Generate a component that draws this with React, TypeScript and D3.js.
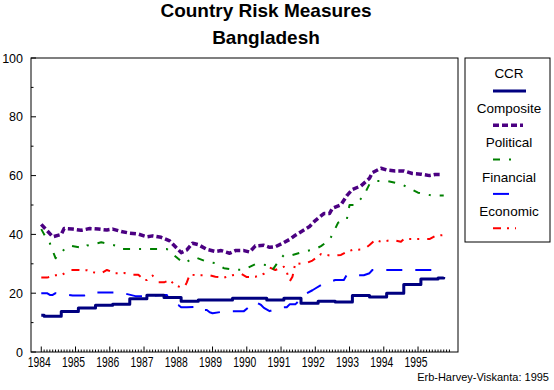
import * as d3 from "d3";

// months counted from Jan 1984
const yearLabels = ["1984", "1985", "1986", "1987", "1988", "1989", "1990", "1991", "1992", "1993", "1994", "1995"];
const yTicks = [0, 20, 40, 60, 80, 100];

const ccrMonths = [0, 1, 7, 13, 19, 25, 31, 37, 43, 49, 55, 67, 79, 85, 91, 97, 103, 109, 115, 121, 127, 133, 139, 141];
const ccrValues = [12.5, 12.2, 13.8, 15.0, 15.9, 16.2, 18.1, 19.3, 18.5, 17.3, 17.7, 18.3, 17.7, 18.3, 16.6, 17.3, 17.0, 19.2, 18.7, 20.0, 23.0, 24.8, 25.2, 25.5];

const compMonths = [0, 2, 4, 7, 8, 11, 14, 17, 20, 23, 25, 28, 31, 34, 37, 39, 42, 45, 47, 49, 51, 53, 55, 58, 61, 63, 66, 68, 71, 73, 75, 78, 80, 82, 85, 87, 89, 92, 94, 96, 99, 101, 102, 105, 107, 109, 112, 115, 116, 119, 121, 124, 127, 130, 133, 136, 138, 140];
const compValues = [43.4, 41.3, 39.2, 40.0, 42.0, 41.8, 41.4, 42.0, 41.8, 41.5, 41.8, 41.0, 40.4, 40.1, 39.2, 39.5, 39.0, 37.8, 35.8, 33.8, 34.7, 37.0, 36.5, 34.9, 34.2, 34.5, 33.6, 34.5, 34.5, 34.0, 36.1, 36.3, 35.6, 35.8, 37.2, 38.3, 39.7, 41.5, 42.7, 44.7, 47.1, 47.1, 48.9, 50.1, 53.1, 55.3, 56.5, 59.1, 61.0, 62.5, 61.9, 61.6, 61.6, 60.7, 60.5, 60.0, 60.4, 60.4];

const polMonths = [0, 1, 3, 5, 7, 10, 15, 16, 21, 26, 28, 32, 37, 40, 44, 48, 50, 54, 58, 61, 64, 68, 71, 75, 79, 81, 83, 85, 88, 92, 96, 98, 101, 103, 104, 107, 108, 110, 113, 115, 117, 121, 126, 128, 132, 137, 141];
const polValues = [41.8, 40.0, 37.0, 31.9, 34.1, 36.2, 35.3, 36.2, 37.3, 36.2, 35.0, 35.0, 35.0, 35.0, 35.0, 31.7, 30.2, 32.2, 30.7, 30.2, 28.5, 28.0, 28.0, 29.9, 29.6, 27.9, 30.7, 33.0, 33.0, 34.1, 35.0, 36.0, 38.1, 42.0, 44.0, 44.9, 50.0, 50.0, 53.2, 57.1, 58.2, 58.2, 57.1, 56.2, 54.2, 53.2, 53.2];

const finMonths = [0, 2, 3, 4, 5, 11, 15, 17, 22, 28, 33, 38, 42, 44, 45, 46, 48, 49, 51, 55, 56, 58, 59, 60, 65, 71, 75, 77, 78, 80, 84, 86, 87, 89, 93, 95, 96, 98, 103, 106, 107, 113, 115, 116, 119, 141];
const finValues = [20.0, 20.0, 19.4, 19.4, 20.0, 19.2, 19.2, 20.2, 20.2, 20.2, 19.0, 19.0, 19.4, 19.4, 17.0, 16.2, 16.0, 15.2, 15.2, 15.4, 14.3, 14.3, 13.5, 13.2, 13.9, 13.9, 17.1, 16.0, 15.0, 13.9, 15.2, 15.2, 16.2, 16.2, 20.0, 21.0, 21.6, 22.8, 24.5, 24.5, 26.2, 26.1, 26.8, 27.9, 27.9, 27.9];

const ecoMonths = [0, 2, 5, 7, 10, 13, 15, 16, 18, 21, 23, 26, 27, 29, 32, 34, 36, 37, 39, 41, 43, 45, 47, 50, 51, 52, 55, 59, 61, 64, 67, 70, 72, 75, 78, 80, 82, 85, 86, 87, 88, 89, 92, 95, 98, 102, 105, 107, 109, 113, 115, 117, 119, 123, 126, 127, 130, 133, 136, 138, 141];
const ecoValues = [25.3, 25.3, 26.1, 26.1, 27.9, 27.9, 27.8, 27.8, 27.1, 26.8, 27.9, 26.8, 26.8, 26.9, 26.3, 26.3, 24.5, 24.5, 26.0, 23.7, 23.7, 24.5, 22.6, 21.7, 23.7, 26.3, 26.1, 26.1, 25.6, 25.3, 26.1, 26.6, 25.5, 25.6, 26.6, 28.7, 27.9, 29.0, 27.3, 23.9, 25.6, 30.2, 29.9, 31.1, 33.3, 32.7, 33.0, 34.1, 34.7, 34.9, 36.4, 38.1, 37.5, 38.1, 37.5, 38.4, 38.4, 38.4, 38.4, 39.5, 39.8];

const series = [
  { name: "CCR", months: ccrMonths, values: ccrValues, color: "#000080", width: 3, dash: "none", step: true, legendLen: 33 },
  { name: "Composite", months: compMonths, values: compValues, color: "#4b0082", width: 3.5, dash: "6,3", step: false, legendLen: 30 },
  { name: "Political", months: polMonths, values: polValues, color: "#008000", width: 2, dash: "7,9,2,9", step: false, legendLen: 20 },
  { name: "Financial", months: finMonths, values: finValues, color: "#0000ff", width: 2, dash: "16,13", step: false, legendLen: 16 },
  { name: "Economic", months: ecoMonths, values: ecoValues, color: "#ff0000", width: 2, dash: "8,6,2,6,2,8", step: false, legendLen: 23 },
];

const left = 31, right = 458, top = 58, bottom = 352;
const font = "Arial, 'Liberation Sans', sans-serif";

export default function App() {
  const x = d3.scaleLinear().domain([-3.6, 146]).range([left, right]);
  const y = d3.scaleLinear().domain([0, 100]).range([bottom, top]);

  const monthTicks = d3.range(0, 144);
  const yMinor = d3.range(0, 101, 10);

  return (
    <svg width={554} height={390} style={{ position: "absolute", left: 0, top: 0, background: "#fff" }}>
      <rect x={0} y={0} width={554} height={390} fill="#fff" />
      <text x={266} y={17} textAnchor="middle" fontFamily={font} fontWeight="bold" fontSize={19}>Country Risk Measures</text>
      <text x={266} y={44} textAnchor="middle" fontFamily={font} fontWeight="bold" fontSize={19}>Bangladesh</text>

      <rect x={left} y={top} width={right - left} height={bottom - top} fill="none" stroke="#000" strokeWidth={1} />

      {yMinor.map((v) => (
        <line key={"yt" + v} x1={left} x2={left + (v % 20 === 0 ? 5 : 2.5)} y1={y(v)} y2={y(v)} stroke="#000" />
      ))}
      {yTicks.map((v) => (
        <text key={"yl" + v} x={23} y={y(v) + 4.5} textAnchor="end" fontFamily={font} fontSize={12.5}>{v}</text>
      ))}

      {monthTicks.map((m) => (
        <line key={"xt" + m} x1={x(m)} x2={x(m)} y1={bottom} y2={bottom - (m % 12 === 0 ? 5.5 : 2.5)} stroke="#000" />
      ))}
      {yearLabels.map((lab, i) => (
        <text key={lab} x={x(i * 12) - 2} y={367} textAnchor="middle" fontFamily={font} fontSize={14.5}
          textLength={23} lengthAdjust="spacingAndGlyphs">{lab}</text>
      ))}

      {series.slice().reverse().map((s) => {
        const pts: [number, number][] = s.months.map((m, i) => [m, s.values[i]]);
        const line = d3.line<[number, number]>()
          .x((d) => x(d[0]))
          .y((d) => y(d[1]))
          .curve(s.step ? d3.curveStepAfter : d3.curveLinear);
        return (
          <path key={s.name} d={line(pts) || ""} fill="none" stroke={s.color} strokeWidth={s.width}
            strokeDasharray={s.dash} strokeLinejoin="round" />
        );
      })}

      <rect x={465} y={58} width={85} height={184} fill="none" stroke="#000" strokeWidth={1} />
      {series.map((s, i) => {
        const ty = 78 + i * 34.5;
        const ly = 91 + i * 34.3;
        return (
          <g key={"lg" + s.name}>
            <text x={509} y={ty} textAnchor="middle" fontFamily={font} fontSize={13.5}>{s.name}</text>
            <line x1={493} x2={493 + s.legendLen} y1={ly} y2={ly} stroke={s.color} strokeWidth={s.width} strokeDasharray={s.dash} />
          </g>
        );
      })}

      <text x={549} y={381} textAnchor="end" fontFamily={font} fontSize={11}>Erb-Harvey-Viskanta: 1995</text>
    </svg>
  );
}
